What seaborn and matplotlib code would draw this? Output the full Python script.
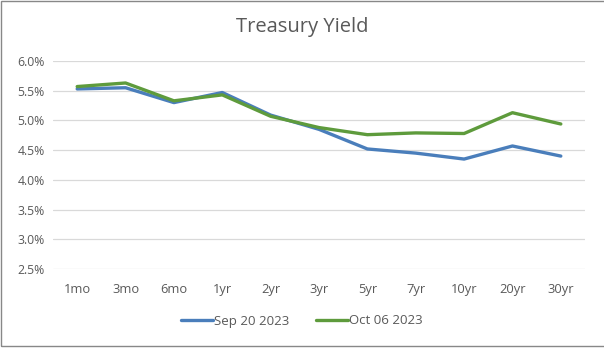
import matplotlib
matplotlib.use("Agg")
import matplotlib.pyplot as plt
import seaborn as sns
import pandas as pd
from matplotlib.ticker import FuncFormatter
from matplotlib.patches import Rectangle
from matplotlib.lines import Line2D

maturities = ["1mo", "3mo", "6mo", "1yr", "2yr", "3yr", "5yr", "7yr", "10yr", "20yr", "30yr"]
sep_20_2023 = [5.53, 5.55, 5.30, 5.47, 5.09, 4.85, 4.52, 4.45, 4.35, 4.57, 4.40]
oct_06_2023 = [5.57, 5.63, 5.33, 5.43, 5.07, 4.88, 4.76, 4.79, 4.78, 5.13, 4.94]
series_names = ["Sep 20 2023", "Oct 06 2023"]
yticks = [2.5, 3.0, 3.5, 4.0, 4.5, 5.0, 5.5, 6.0]

df = pd.DataFrame({
    "maturity": maturities * 2,
    "idx": list(range(len(maturities))) * 2,
    "yield": sep_20_2023 + oct_06_2023,
    "series": [series_names[0]] * len(maturities) + [series_names[1]] * len(maturities),
})

sns.set_style("white")
plt.rcParams["font.family"] = ["Open Sans", "DejaVu Sans"]

fig = plt.figure(figsize=(6.04, 3.49), dpi=100)
ax = fig.add_axes([53 / 604, 1 - 269 / 349, 532 / 604, (269 - 61) / 349])

palette = {series_names[0]: "#4A7EBB", series_names[1]: "#5E9B3C"}
sns.lineplot(data=df, x="idx", y="yield", hue="series", palette=palette,
             linewidth=2.4, ax=ax, legend=False, sort=False)

ax.set_xlim(-0.5, len(maturities) - 0.5)
ax.set_ylim(2.5, 6.0)
ax.set_yticks(yticks)
ax.yaxis.set_major_formatter(FuncFormatter(lambda v, p: f"{v:.1f}%"))
ax.set_xticks(range(len(maturities)))
ax.set_xticklabels(maturities)
ax.grid(axis="y", color="#D9D9D9", linewidth=0.9)
ax.set_axisbelow(True)
for s in ax.spines.values():
    s.set_visible(False)
ax.tick_params(axis="x", length=0, labelsize=9.3, colors="#595959", pad=10)
ax.tick_params(axis="y", length=0, labelsize=8.8, colors="#595959", pad=6)
ax.set_xlabel("")
ax.set_ylabel("")

fig.text(0.5, 1 - 27 / 349, "Treasury Yield", ha="center", va="center",
         fontsize=14.5, color="#595959")

handles = [Line2D([0], [0], color=palette[n], linewidth=2.4) for n in series_names]
fig.legend(handles, series_names, loc="center", bbox_to_anchor=(0.5, 1 - 321 / 349),
           ncol=2, frameon=False, fontsize=9.5, labelcolor="#595959",
           handlelength=2.4, handletextpad=0.1, columnspacing=2.0)

# chart border
fig.add_artist(Rectangle((1 / 604, 1 - 346 / 349), 1.2, 345 / 349,
                         transform=fig.transFigure, fill=False,
                         edgecolor="#888888", linewidth=1.0))

fig.savefig("out.png", dpi=100)
